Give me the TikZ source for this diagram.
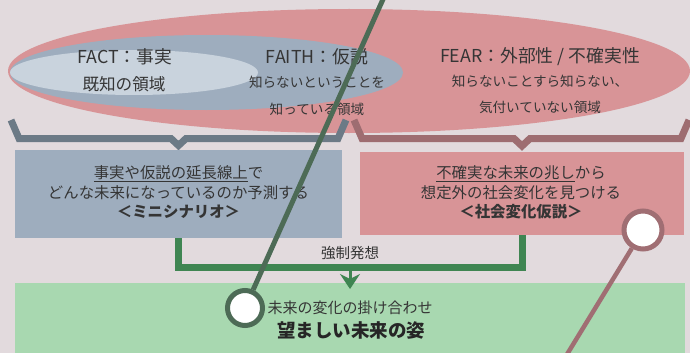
\documentclass[tikz,border=0pt]{standalone}
\usepackage{fontspec}
\setmainfont{Noto Sans CJK JP}
\usetikzlibrary{arrows.meta}
\definecolor{bgc}{HTML}{E2DADD}
\definecolor{redf}{HTML}{D89497}
\definecolor{bluef}{HTML}{9EADBE}
\definecolor{lightf}{HTML}{C9D3DD}
\definecolor{greyb}{HTML}{6C7A86}
\definecolor{mauveb}{HTML}{9E6D71}
\definecolor{connc}{HTML}{3F8552}
\definecolor{greenf}{HTML}{A8D8B0}
\definecolor{dgreen}{HTML}{4D6B56}
\definecolor{mauvel}{HTML}{A06E73}
\definecolor{txt}{HTML}{353535}
\begin{document}
\begin{tikzpicture}[x=1pt,y=-1pt,
  lbl/.style={inner sep=0pt,text=txt,align=center},
  big/.style={lbl,font=\fontsize{17.8}{20}\selectfont},
  small/.style={lbl,font=\fontsize{13.6}{27}\selectfont},
  boxtext/.style={lbl,font=\fontsize{15.4}{19.5}\selectfont},
  panel/.style={inner sep=0pt,draw=none},
  brace/.style={line width=7pt,line join=miter},
  conn/.style={line width=7pt,draw=connc,line join=miter},
  pin/.style={circle,fill=white,line width=5pt,inner sep=0pt}]
\useasboundingbox (0,0) rectangle (690,353);
\fill[bgc] (0,0) rectangle (690,353);
% ellipses
\fill[redf] (349,71) ellipse [x radius=341, y radius=62];
\fill[bluef] (206.5,72.5) ellipse [x radius=196.5, y radius=37.5];
\fill[lightf] (134,72.5) ellipse [x radius=124, y radius=22.5];
% ellipse labels
\node[big] (fact) at (125,57) {FACT：事実};
\node[lbl,font=\fontsize{16.6}{20}\selectfont] (factsub) at (124,84) {既知の領域};
\node[big] (faith) at (317,57) {FAITH：仮説};
\node[small] (faithsub) at (317,96) {知らないということを\\知っている領域};
\node[big] (fear) at (540,57) {FEAR：外部性 / 不確実性};
\node[small,font=\fontsize{13.6}{26}\selectfont] (fearsub) at (540,94) {知らないことすら知らない、\\気付いていない領域};
% braces
\draw[brace,greyb] (11,120) -- (19,138.5) -- (171,138.5) -- (178.5,145.5) -- (186,138.5) -- (338,138.5) -- (346,120);
\draw[brace,mauveb] (354,120) -- (362,138.5) -- (514,138.5) -- (522,146) -- (530,138.5) -- (681,138.5) -- (689,120);
% boxes
\node[panel,fill=bluef,minimum width=327pt,minimum height=88pt] (gbox) at (178.5,194) {};
\node[panel,fill=redf,minimum width=324pt,minimum height=83pt] (rbox) at (522,193.5) {};
\node[boxtext] (gtext) at (178.5,192.5) {\underline{事実や仮説の延長線上}で\\どんな未来になっているのか予測する\\{\bfseries ＜ミニシナリオ＞}};
\node[boxtext] (rtext) at (521,192.5) {\underline{不確実な未来の兆し}から\\想定外の社会変化を見つける\\{\bfseries ＜社会変化仮説＞}};
% green result box
\node[panel,fill=greenf,minimum width=670pt,minimum height=72pt] (res) at (350,319) {};
% connector
\coordinate (j) at (350,267);
\draw[conn] (gbox.south) |- (j) -| (rbox.south);
\draw[line width=3pt,draw=connc,-{Stealth[length=15pt,width=20pt,inset=5pt]}] (j) -- (350,289);
\node[lbl,font=\fontsize{14.5}{18}\selectfont] (force) at (350,253) {強制発想};
\node[lbl,font=\fontsize{15}{18}\selectfont] (mix) at (350,308) {未来の変化の掛け合わせ};
\node[lbl,font=\fontsize{18.5}{22}\bfseries,text=black!85] (goal) at (351,330) {望ましい未来の姿};
% pins
\coordinate (gtop) at (384,-3);
\node[pin,draw=dgreen,minimum size=35pt] (gpin) at (245,308) {};
\draw[dgreen,line width=5pt] (gtop) -- (gpin);
\node[pin,draw=mauvel,minimum size=38pt] (mpin) at (643,230) {};
\coordinate (mbot) at (566,356);
\draw[mauvel,line width=4.5pt] (mpin) -- (mbot);
\end{tikzpicture}
\end{document}
